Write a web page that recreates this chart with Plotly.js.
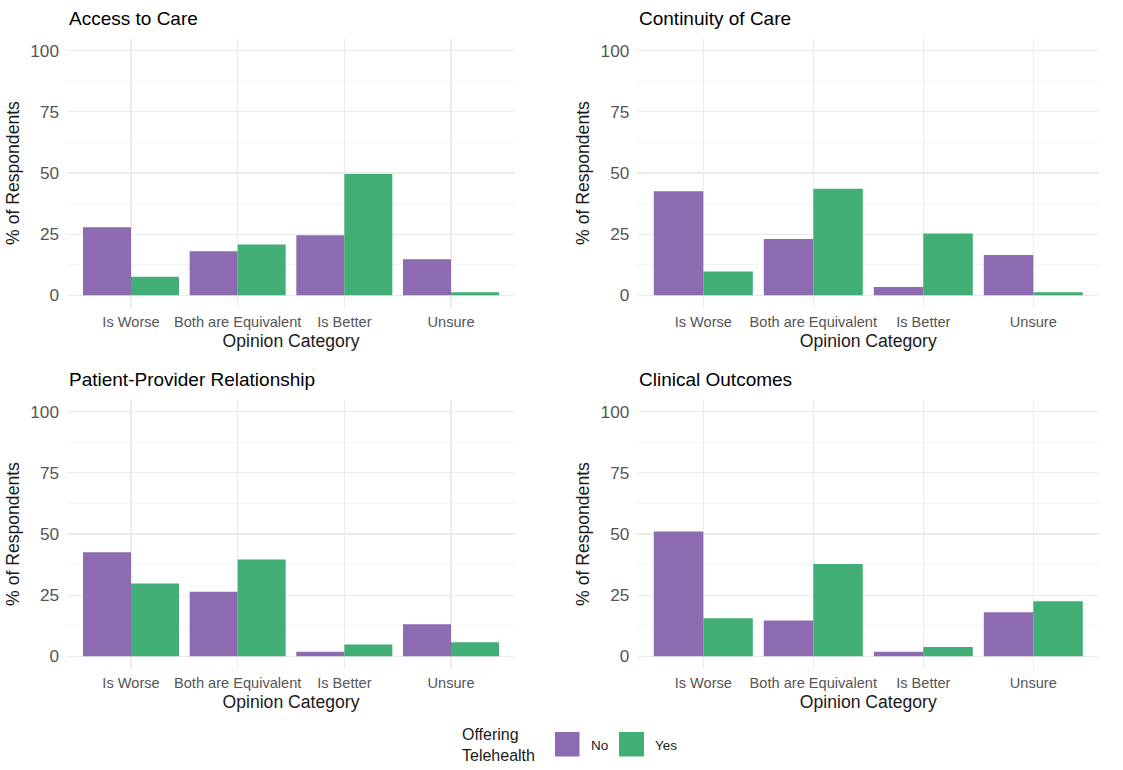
<!DOCTYPE html>
<html>
<head>
<meta charset="utf-8">
<script src="https://cdn.plot.ly/plotly-3.0.1.min.js"></script>
<style>html,body{margin:0;padding:0;background:#fff;}#chart{width:1123px;height:770px;}</style>
</head>
<body>
<div id="chart"></div>
<script>
// ---- data ----
const categories = ['Is Worse', 'Both are Equivalent', 'Is Better', 'Unsure'];
const panelTitles = ['Access to Care', 'Continuity of Care', 'Patient-Provider Relationship', 'Clinical Outcomes'];
const groupNames = ['No', 'Yes'];
const accessNo = [27.8, 18.0, 24.5, 14.7];
const accessYes = [7.6, 20.8, 49.6, 1.2];
const continuityNo = [42.5, 23.0, 3.4, 16.5];
const continuityYes = [9.7, 43.6, 25.3, 1.2];
const relationshipNo = [42.5, 26.4, 1.8, 13.1];
const relationshipYes = [29.8, 39.6, 4.8, 5.7];
const outcomesNo = [51.0, 14.6, 1.8, 18.0];
const outcomesYes = [15.5, 37.7, 3.8, 22.5];
const yTickVals = [0, 25, 50, 75, 100];
const xTitle = 'Opinion Category';
const yTitle = '% of Respondents';
const legendTitle = 'Offering<br>Telehealth';

// ---- styling ----
const W = 1123, H = 770;
const FONT = 'Liberation Sans, Arial, Helvetica, sans-serif';
const colors = {No: '#8c6bb1', Yes: '#41ae76'};
const px = x => x / W;
const py = y => 1 - y / H;

const xDomains = [[px(67), px(515)], [px(637.3), px(1099.3)]];
const yDomains = [[py(307.5), py(38.5)], [py(668.5), py(399.5)]];
const seriesByPanel = [
  [accessNo, accessYes],
  [continuityNo, continuityYes],
  [relationshipNo, relationshipYes],
  [outcomesNo, outcomesYes]
];

const traces = [];
const layout = {
  width: W, height: H,
  margin: {l: 0, r: 0, t: 0, b: 0},
  paper_bgcolor: '#fff', plot_bgcolor: '#fff',
  barmode: 'group', bargap: 0.1, bargroupgap: 0,
  showlegend: false,
  font: {family: FONT, color: '#1a1a1a'},
  annotations: [], shapes: []
};

seriesByPanel.forEach((pair, i) => {
  const n = i + 1;
  const xa = 'x' + (n === 1 ? '' : n);
  const ya = 'y' + (n === 1 ? '' : n);
  pair.forEach((vals, j) => {
    traces.push({
      type: 'bar', x: categories, y: vals, name: groupNames[j],
      xaxis: xa, yaxis: ya,
      marker: {color: colors[groupNames[j]], line: {width: 0}},
      hovertemplate: '%{x}: %{y}<extra>' + groupNames[j] + '</extra>'
    });
  });
  const col = i % 2, row = Math.floor(i / 2);
  const xkey = 'xaxis' + (n === 1 ? '' : n);
  const ykey = 'yaxis' + (n === 1 ? '' : n);
  layout[xkey] = {
    domain: xDomains[col], anchor: ya, type: 'category',
    range: [-0.6, 3.6], fixedrange: true,
    showgrid: true, gridcolor: '#ebebeb', gridwidth: 1.2,
    zeroline: false, showline: false, ticks: '',
    ticklabelstandoff: 4,
    tickfont: {family: FONT, size: 14.6, color: '#555555'},
    title: {text: xTitle, font: {family: FONT, size: 17.6, color: '#1a1a1a'}, standoff: 5},
    automargin: false
  };
  layout[ykey] = {
    domain: yDomains[row], anchor: xa,
    range: [-5, 105], fixedrange: true,
    tickvals: yTickVals, ticktext: yTickVals.map(String),
    showgrid: true, gridcolor: '#ebebeb', gridwidth: 1.2,
    minor: {tickvals: [12.5, 37.5, 62.5, 87.5], showgrid: true, gridcolor: '#f3f3f3', gridwidth: 0.9, ticks: ''},
    zeroline: false, showline: false, ticks: '',
    ticklabelstandoff: 7,
    tickfont: {family: FONT, size: 17.2, color: '#555555'},
    title: {text: yTitle, font: {family: FONT, size: 17.6, color: '#1a1a1a'}, standoff: 6},
    automargin: false
  };
  layout.annotations.push({
    text: panelTitles[i], xref: 'paper', yref: 'paper',
    x: xDomains[col][0], y: py(row === 0 ? 18 : 379),
    xanchor: 'left', yanchor: 'middle', showarrow: false,
    font: {family: FONT, size: 19, color: '#000'}
  });
});

// manual legend (ggplot-style, bottom)
layout.annotations.push({
  text: legendTitle, xref: 'paper', yref: 'paper', x: px(460), y: py(745),
  xanchor: 'left', yanchor: 'middle', align: 'left', showarrow: false,
  font: {family: FONT, size: 16, color: '#1a1a1a'}
});
const swatches = [[555, 579.5], [619, 644]];
const labelX = [589, 653];
groupNames.forEach((g, k) => {
  layout.shapes.push({
    type: 'rect', xref: 'paper', yref: 'paper',
    x0: px(swatches[k][0]), x1: px(swatches[k][1]), y0: py(756.5), y1: py(732),
    fillcolor: colors[g], line: {width: 0}
  });
  layout.annotations.push({
    text: g, xref: 'paper', yref: 'paper', x: px(labelX[k]), y: py(745),
    xanchor: 'left', yanchor: 'middle', showarrow: false,
    font: {family: FONT, size: 13.5, color: '#1a1a1a'}
  });
});

Plotly.newPlot('chart', traces, layout, {displayModeBar: false, staticPlot: true});
</script>
</body>
</html>
